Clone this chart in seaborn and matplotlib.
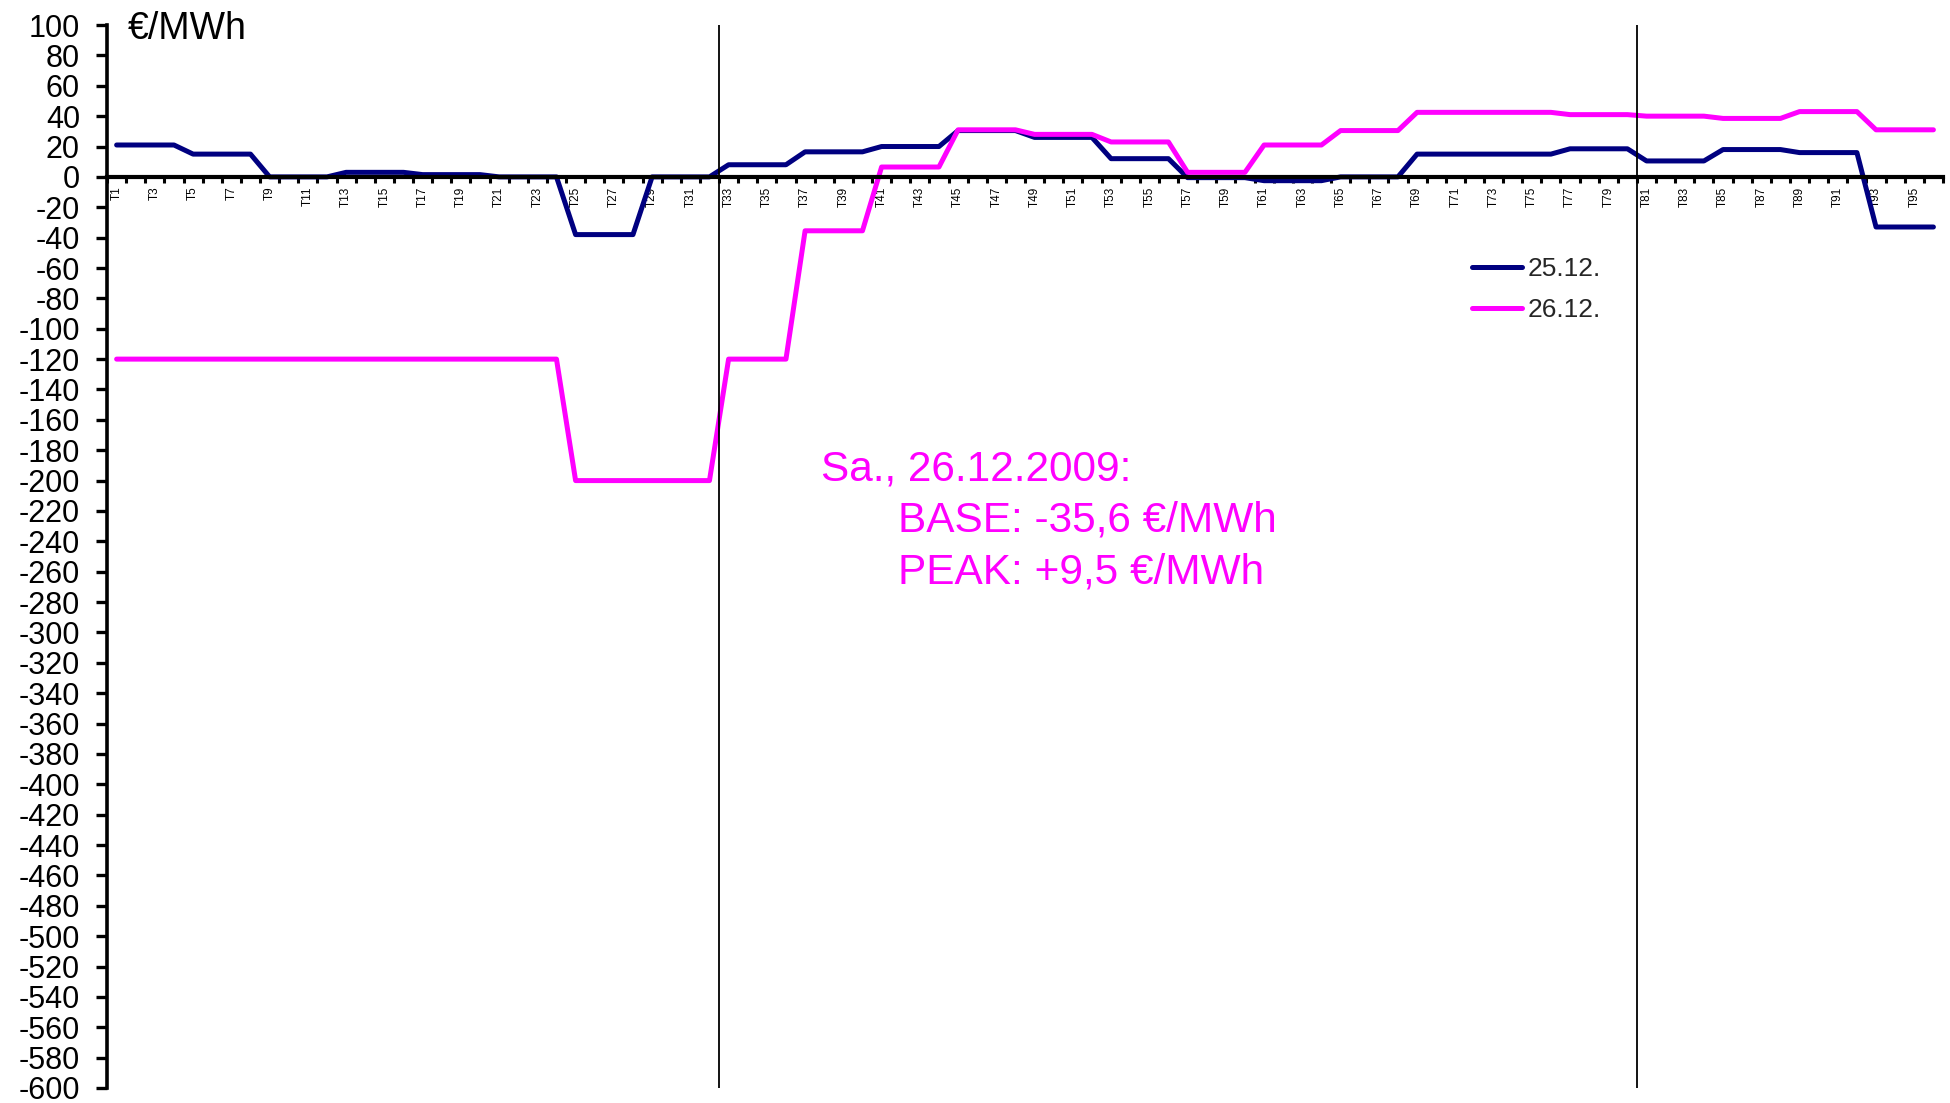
import numpy as np
import pandas as pd
import matplotlib
matplotlib.use("Agg")
import matplotlib.pyplot as plt
import seaborn as sns

# Quarter-hour slots of the day
categories = [f"T{i}" for i in range(1, 97)]

# Spot prices in EUR/MWh, 25.12.2009
prices_25 = [
    21, 21, 21, 21, 15, 15, 15, 15,
    0, 0, 0, 0, 3, 3, 3, 3,
    1.5, 1.5, 1.5, 1.5, 0, 0, 0, 0,
    -38, -38, -38, -38, 0, 0, 0, 0,
    8, 8, 8, 8, 16.5, 16.5, 16.5, 16.5,
    20, 20, 20, 20, 30.5, 30.5, 30.5, 30.5,
    26, 26, 26, 26, 12, 12, 12, 12,
    -0.5, -0.5, -0.5, -0.5, -2.5, -2.5, -2.5, -2.5,
    0, 0, 0, 0, 15, 15, 15, 15,
    15, 15, 15, 15, 18.5, 18.5, 18.5, 18.5,
    10.5, 10.5, 10.5, 10.5, 18, 18, 18, 18,
    16, 16, 16, 16, -33, -33, -33, -33,
]

# Spot prices in EUR/MWh, 26.12.2009
prices_26 = [
    -120, -120, -120, -120, -120, -120, -120, -120,
    -120, -120, -120, -120, -120, -120, -120, -120,
    -120, -120, -120, -120, -120, -120, -120, -120,
    -200, -200, -200, -200, -200, -200, -200, -200,
    -120, -120, -120, -120, -35.5, -35.5, -35.5, -35.5,
    6.5, 6.5, 6.5, 6.5, 31, 31, 31, 31,
    28, 28, 28, 28, 23, 23, 23, 23,
    3, 3, 3, 3, 21, 21, 21, 21,
    30.5, 30.5, 30.5, 30.5, 42.5, 42.5, 42.5, 42.5,
    42.5, 42.5, 42.5, 42.5, 41, 41, 41, 41,
    40, 40, 40, 40, 38.5, 38.5, 38.5, 38.5,
    43, 43, 43, 43, 31, 31, 31, 31,
]

series_labels = ["25.12.", "26.12."]
series_colors = {"25.12.": "#000080", "26.12.": "#FF00FF"}

# Peak period boundaries (between T32/T33 and T80/T81)
peak_bounds = [31.5, 79.5]

y_ticks = list(range(-600, 101, 20))

annotation_lines = [
    "Sa., 26.12.2009:",
    "BASE: -35,6 €/MWh",
    "PEAK: +9,5 €/MWh",
]

sns.set_theme(style="white")
plt.rcParams["font.family"] = ["Liberation Sans", "DejaVu Sans"]

df = pd.DataFrame({
    "slot": list(range(len(categories))) * 2,
    "price": prices_25 + prices_26,
    "day": [series_labels[0]] * len(prices_25) + [series_labels[1]] * len(prices_26),
})

fig = plt.figure(figsize=(19.5, 11.03), dpi=100)
ax = fig.add_axes([0.0549, 0.0136, 0.9415, 0.9637])

sns.lineplot(data=df, x="slot", y="price", hue="day", hue_order=series_labels,
             palette=series_colors, linewidth=3.6, errorbar=None, ax=ax)

ax.set_xlim(-0.5, len(categories) - 0.5)
ax.set_ylim(-600, 100)
ax.set_xlabel("")
ax.set_ylabel("")

# Peak period separators
for xb in peak_bounds:
    ax.axvline(xb, color="black", linewidth=1.3, zorder=6)

# Spines: x axis crosses at zero
for side in ["top", "right"]:
    ax.spines[side].set_visible(False)
ax.spines["bottom"].set_position(("data", 0))
ax.spines["bottom"].set_linewidth(3.0)
ax.spines["bottom"].set_zorder(5)
ax.spines["left"].set_linewidth(2.6)
ax.spines["left"].set_color("black")
ax.spines["bottom"].set_color("black")

ax.set_yticks(y_ticks)
ax.set_yticklabels([str(v) for v in y_ticks])
ax.tick_params(axis="y", direction="out", length=8, width=2.4, pad=11.5,
               labelsize=22, colors="black", left=True)

major_pos = list(range(0, len(categories), 2))
ax.set_xticks(major_pos)
ax.set_xticklabels([categories[i] for i in major_pos], rotation=90,
                   fontsize=8.5, va="top", ha="center")
ax.set_xticks([i + 0.5 for i in range(-1, len(categories))], minor=True)
ax.tick_params(axis="x", which="major", length=0, pad=7, colors="black")
ax.tick_params(axis="x", which="minor", direction="out", length=4, width=2.2,
               colors="black", bottom=True)

# Unit label above the value axis
fig.text(128 / 1950, 1 - 29 / 1103, "€/MWh", fontsize=27, va="center",
         ha="left", color="black")

# Daily averages note
ann_x = [36.84, 40.87, 40.87]
ann_y = [-193.0, -226.0, -260.2]
for tx, ty, txt in zip(ann_x, ann_y, annotation_lines):
    ax.text(tx, ty, txt, fontsize=30.5, color="#FF00FF", va="center", ha="left")

handles, labels = ax.get_legend_handles_labels()
ax.legend(handles, labels, loc="upper left",
          bbox_to_anchor=(1472 / 1950, 1 - 257 / 1103),
          bbox_transform=fig.transFigure, frameon=False, fontsize=19,
          borderpad=0, borderaxespad=0, handlelength=1.9, handletextpad=0.2,
          labelspacing=0.64)

fig.savefig("out.png", dpi=100)
